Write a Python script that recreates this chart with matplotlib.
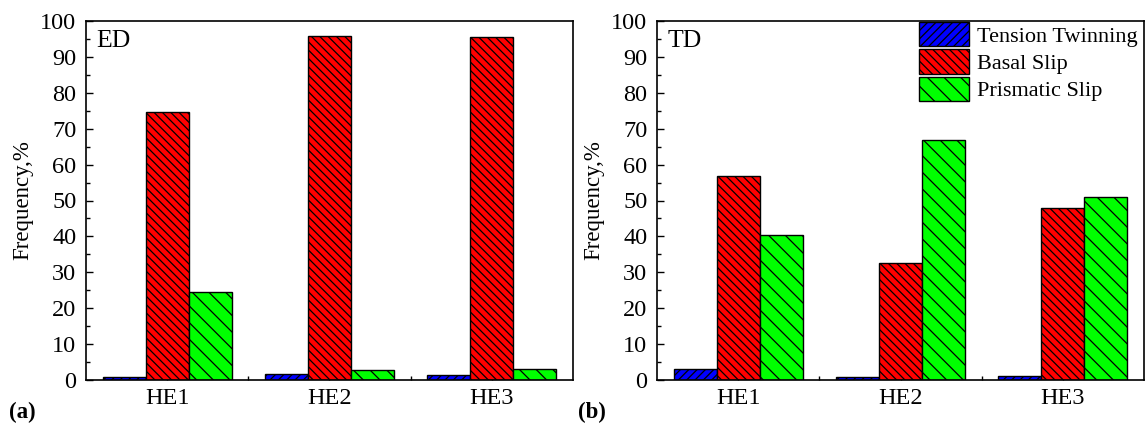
import matplotlib
matplotlib.use("Agg")
import matplotlib.pyplot as plt
import numpy as np
from matplotlib.ticker import MultipleLocator, FixedLocator

plt.rcParams['font.family'] = ['Liberation Serif', 'DejaVu Serif']
plt.rcParams['hatch.linewidth'] = 0.9

groups = ["HE1", "HE2", "HE3"]
series_names = ["Tension Twinning", "Basal Slip", "Prismatic Slip"]

ed_twinning = [0.8, 1.6, 1.3]
ed_basal = [74.7, 95.7, 95.5]
ed_prismatic = [24.6, 2.8, 3.2]

td_twinning = [3.0, 0.8, 1.2]
td_basal = [56.7, 32.5, 47.8]
td_prismatic = [40.5, 66.8, 51.1]

colors = ["#0000ff", "#ff0000", "#00ff00"]
hatches = ["////", "\\\\\\\\", "\\\\"]

W, H = 1147, 425
fig = plt.figure(figsize=(W / 100, H / 100), dpi=100)

def make_axes(left_px, right_px, top_px, bottom_px):
    return fig.add_axes([left_px / W, (H - bottom_px) / H,
                         (right_px - left_px) / W, (bottom_px - top_px) / H])

ax1 = make_axes(86, 573, 21, 380)
ax2 = make_axes(657, 1144, 21, 380)

x = np.arange(1, len(groups) + 1)
bw = 0.265

def draw(ax, data, tag):
    handles = []
    for i, vals in enumerate(data):
        b = ax.bar(x + (i - 1) * bw, vals, bw, color=colors[i], edgecolor='black',
                   linewidth=1.0, hatch=hatches[i], label=series_names[i], zorder=2)
        handles.append(b)
    ax.set_xlim(0.5, 3.5)
    ax.set_ylim(0, 100)
    ax.yaxis.set_major_locator(MultipleLocator(10))
    ax.yaxis.set_minor_locator(MultipleLocator(5))
    ax.set_xticks(x)
    ax.set_xticklabels(groups)
    ax.xaxis.set_minor_locator(FixedLocator([1.5, 2.5]))
    ax.tick_params(axis='both', which='major', direction='in', length=5, width=1.0,
                   labelsize=17.5, top=False, right=False)
    ax.tick_params(axis='both', which='minor', direction='in', length=3, width=1.0,
                   top=False, right=False)
    ax.tick_params(axis='x', which='major', pad=6)
    ax.tick_params(axis='y', which='major', pad=7)
    for s in ax.spines.values():
        s.set_linewidth(1.2)
    ax.set_ylabel("Frequency,%", fontsize=16.5, labelpad=5)
    ax.text(0.022, 0.975, tag, transform=ax.transAxes, fontsize=18.5,
            ha='left', va='top')
    return handles

h1 = draw(ax1, [ed_twinning, ed_basal, ed_prismatic], "ED")
h2 = draw(ax2, [td_twinning, td_basal, td_prismatic], "TD")

ax2.legend(handles=h2, labels=series_names, loc='upper left',
           bbox_to_anchor=((918 - 657) / 487, 1.0), frameon=False,
           fontsize=16, borderpad=0.05, borderaxespad=0, handlelength=2.25,
           handleheight=1.3, labelspacing=0.12, handletextpad=0.36)

fig.text(22 / W, 1 - 412 / H, "(a)", fontsize=16.5, fontweight='bold',
         ha='center', va='center')
fig.text(592 / W, 1 - 412 / H, "(b)", fontsize=16.5, fontweight='bold',
         ha='center', va='center')

fig.savefig("out.png", dpi=100)
